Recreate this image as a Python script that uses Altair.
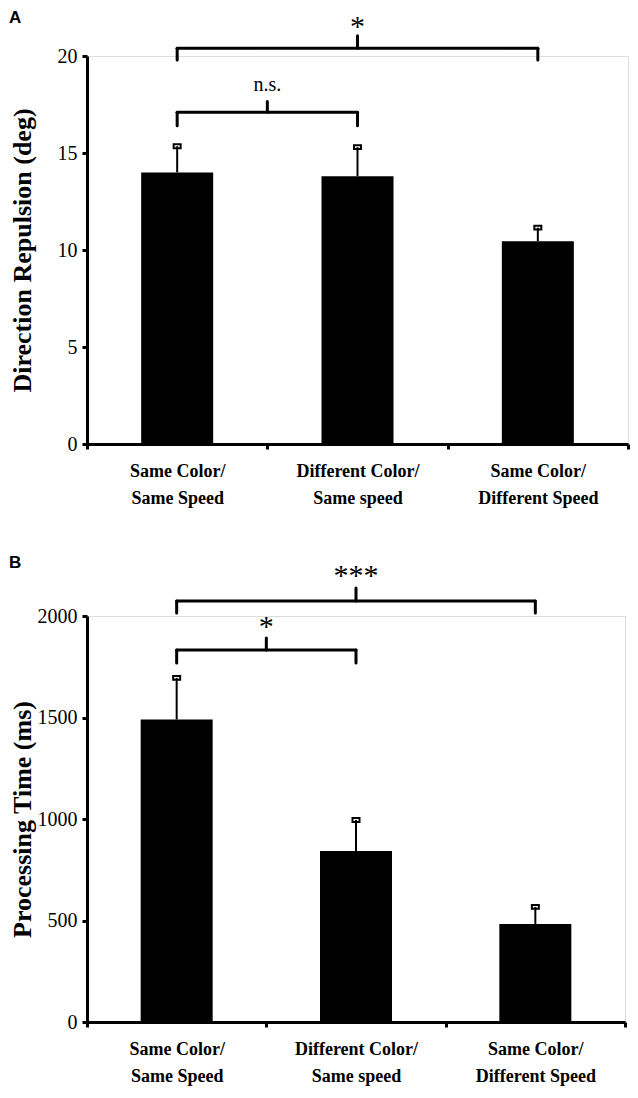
import altair as alt
import pandas as pd

# ---------------- data ----------------
categories = ["Same Color/|Same Speed", "Different Color/|Same speed", "Same Color/|Different Speed"]

repulsion_mean = [14.0, 13.8, 10.45]
repulsion_errtop = [15.35, 15.3, 11.15]

proc_mean = [1490, 842, 483]
proc_errtop = [1695, 995, 567]

# brackets, x in category units (0..3)
a_br_x1 = [0.5, 0.5]
a_br_x2 = [2.5, 1.5]
a_br_xc = [1.5, 1.0]
a_br_y = [20.4, 17.1]
a_br_hook = [19.8, 16.4]
a_br_tip = [21.05, 17.65]
a_br_label = ["*", "n.s."]
a_br_label_y = [21.5, 18.5]
a_br_label_size = [30, 20]

b_br_x1 = [0.5, 0.5]
b_br_x2 = [2.5, 1.5]
b_br_xc = [1.5, 1.0]
b_br_y = [2074, 1833]
b_br_hook = [2015, 1768]
b_br_tip = [2138, 1892]
b_br_label = ["***", "*"]
b_br_label_y = [2195, 1945]
b_br_label_size = [30, 30]

SERIF = "Liberation Serif"


def panel(means, errtop, ytitle, ydomain, yticks, brx1, brx2, brxc, bry, brhook, brtip,
          brlab, brlab_y, brlab_size, width, height, letter, title_x, letter_offset):
    bars_df = pd.DataFrame({"cat": categories, "v": means, "e": errtop})
    segs = []
    for i in range(len(brx1)):
        segs.append({"x": brx1[i], "x2": brx2[i], "y": bry[i], "y2": bry[i]})
        segs.append({"x": brx1[i], "x2": brx1[i], "y": bry[i], "y2": brhook[i]})
        segs.append({"x": brx2[i], "x2": brx2[i], "y": bry[i], "y2": brhook[i]})
        segs.append({"x": brxc[i], "x2": brxc[i], "y": bry[i], "y2": brtip[i]})
    seg_df = pd.DataFrame(segs)
    lab_df = pd.DataFrame({"x": brxc, "y": brlab_y, "t": brlab, "s": brlab_size})

    yscale = alt.Scale(domain=ydomain, nice=False, zero=True)
    xband = alt.Scale(domain=categories, paddingInner=0, paddingOuter=0)
    xq = alt.Scale(domain=[0, 3], nice=False, zero=False)
    yaxis = alt.Axis(values=yticks, format="d", grid=False, labelFont=SERIF, labelFontSize=20,
                     labelColor="black", labelPadding=5, tickSize=5, tickWidth=3,
                     tickColor="black", domainColor="black", domainWidth=3,
                     titleFont=SERIF, titleFontSize=26, titleFontWeight="bold",
                     titleColor="black", titleX=title_x)
    xaxis = alt.Axis(title=None, labelAngle=0, labelFont=SERIF, labelFontSize=18,
                     labelFontWeight="bold", labelColor="black", labelPadding=13,
                     labelLineHeight=27, labelExpr="split(datum.label, '|')",
                     tickBand="extent", tickSize=5, tickWidth=3, tickColor="black",
                     domainColor="black", domainWidth=3, grid=False)

    base = alt.Chart(bars_df)
    bars = base.mark_bar(size=72, color="black").encode(
        x=alt.X("cat:N", scale=xband, axis=xaxis, sort=categories),
        y=alt.Y("v:Q", scale=yscale, axis=yaxis, title=ytitle),
    )
    err = base.mark_rule(color="black", strokeWidth=2).encode(
        x=alt.X("cat:N", scale=xband, axis=None, sort=categories),
        y=alt.Y("v:Q", scale=yscale, axis=yaxis, title=ytitle),
        y2="e:Q",
    )
    cap = base.mark_point(shape="M-1,-0.55H1V0.55H-1Z", size=49, filled=False,
                          stroke="black", strokeWidth=2, opacity=1).encode(
        x=alt.X("cat:N", scale=xband, axis=None, sort=categories),
        y=alt.Y("e:Q", scale=yscale, axis=yaxis, title=ytitle),
    )
    br = alt.Chart(seg_df).mark_rule(color="black", strokeWidth=3, strokeCap="round").encode(
        x=alt.X("x:Q", scale=xq, axis=None),
        x2="x2:Q",
        y=alt.Y("y:Q", scale=yscale, axis=yaxis, title=ytitle),
        y2="y2:Q",
    )
    lab = alt.Chart(lab_df).mark_text(font=SERIF, baseline="middle", align="center",
                                      color="black").encode(
        x=alt.X("x:Q", scale=xq, axis=None),
        y=alt.Y("y:Q", scale=yscale, axis=yaxis, title=ytitle),
        text="t:N",
        size=alt.Size("s:Q", scale=None, legend=None),
    )
    return alt.layer(bars, err, cap, br, lab).resolve_scale(x="independent").properties(
        width=width, height=height,
        title=alt.TitleParams(letter, anchor="start", frame="bounds", font="Liberation Sans",
                              fontSize=17, fontWeight="bold", color="black",
                              offset=letter_offset),
    )


chart_a = panel(repulsion_mean, repulsion_errtop, "Direction Repulsion (deg)", [0, 20],
                [0, 5, 10, 15, 20], a_br_x1, a_br_x2, a_br_xc, a_br_y, a_br_hook, a_br_tip,
                a_br_label, a_br_label_y, a_br_label_size, 541, 388, "A", -52, -15)
chart_b = panel(proc_mean, proc_errtop, "Processing Time (ms)", [0, 2000],
                [0, 500, 1000, 1500, 2000], b_br_x1, b_br_x2, b_br_xc, b_br_y, b_br_hook,
                b_br_tip, b_br_label, b_br_label_y, b_br_label_size, 538, 406, "B", -52, -11)

chart = alt.vconcat(chart_a, chart_b, spacing=45).properties(padding=0).configure_view(
    stroke=None).configure(background="white")

chart.save("out.html", embed_options={"renderer": "svg", "actions": False})
